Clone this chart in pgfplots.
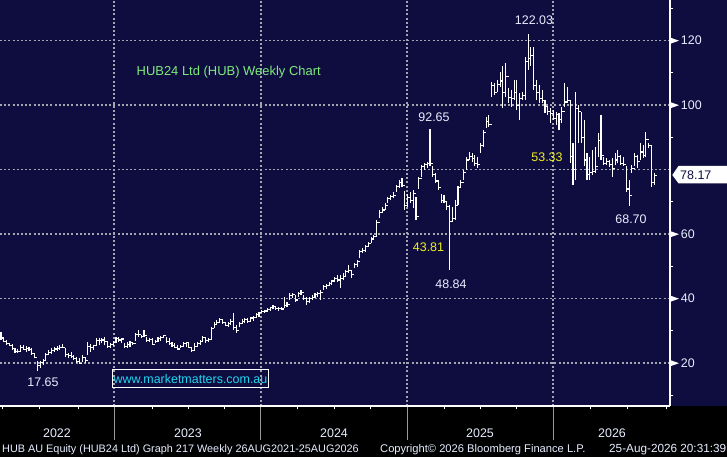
\documentclass[border=0pt]{standalone}
\usepackage{pgfplots}
\pgfplotsset{compat=1.18}
\usepackage{pgfplotstable}
\usepackage{fontspec}
\setmainfont{Liberation Sans}
\definecolor{navybg}{RGB}{15,13,64}
\definecolor{gridc}{RGB}{165,165,175}
\definecolor{lblw}{RGB}{232,238,255}
\definecolor{ttlg}{RGB}{125,235,125}
\definecolor{ylw}{RGB}{240,240,30}
\definecolor{cyn}{RGB}{30,215,240}
\pgfdeclareplotmark{ctick}{\pgfpathmoveto{\pgfpoint{0pt}{0pt}}\pgfpathlineto{\pgfpoint{2.8bp}{0pt}}\pgfusepathqstroke}
\pgfplotstableread{
x h l c
0 29.6 27.2 27.8
1 27.9 26.5 26.8
2 27.2 25.8 26.0
3 26.3 25.2 25.5
4 25.8 24.2 24.5
5 24.8 23.2 23.6
6 24.4 23.1 23.5
7 25.6 23.5 25.0
8 25.5 24.0 24.3
9 25.2 23.6 24.6
10 25.0 23.8 24.2
11 24.6 22.6 23.0
12 23.0 21.7 21.9
13 20.8 17.65 19.2
14 20.6 18.5 20.2
15 21.2 19.5 20.8
16 23.2 21.0 22.6
17 24.2 22.4 23.2
18 24.6 22.8 24.0
19 25.1 23.6 24.4
20 25.2 23.8 24.6
21 25.7 24.1 25.0
22 26.0 24.6 24.9
23 24.8 22.0 22.6
24 23.2 21.5 22.4
25 23.6 21.6 22.0
26 22.6 21.0 21.4
27 22.0 20.0 20.6
28 21.5 19.7 20.0
29 22.5 20.4 21.9
30 22.0 20.2 20.8
31 26.5 22.6 25.2
32 25.8 23.6 25.0
33 25.7 24.2 25.4
34 27.8 25.2 26.9
35 27.8 25.7 27.0
36 27.9 26.3 27.2
37 28.2 25.6 26.6
38 26.8 24.6 25.3
39 26.3 24.6 25.8
40 26.8 25.2 26.5
41 28.0 26.2 27.6
42 28.0 26.5 27.2
43 27.8 26.2 27.5
44 26.3 24.6 25.2
45 26.5 24.8 25.9
46 26.9 25.1 26.3
47 26.7 25.6 26.2
48 29.5 26.8 28.9
49 30.3 28.2 28.8
50 28.8 27.7 28.3
51 30.3 28.2 28.5
52 28.2 26.7 27.1
53 27.7 26.7 27.4
54 27.7 25.6 25.9
55 27.2 26.2 26.8
56 28.2 26.7 27.6
57 28.4 27.0 28.0
58 28.7 27.7 28.5
59 28.2 26.2 26.6
60 27.7 25.6 26.2
61 26.7 25.1 25.5
62 26.2 24.6 24.9
63 25.6 24.1 24.4
64 25.6 24.6 25.2
65 26.7 25.1 26.0
66 26.7 25.1 26.3
67 26.2 24.6 25.0
68 25.1 23.6 23.8
69 26.2 23.9 25.2
70 26.7 25.1 26.1
71 27.2 25.6 26.8
72 28.4 26.7 28.0
73 27.7 26.4 26.9
74 27.7 26.7 27.4
75 31.3 27.2 30.8
76 32.9 30.8 32.0
77 33.4 31.8 32.6
78 33.9 32.6 33.5
79 33.4 32.2 32.6
80 32.9 31.5 31.8
81 32.9 31.3 32.4
82 33.6 31.8 32.9
83 35.5 30.3 31.0
84 31.8 29.3 30.0
85 32.9 31.3 32.4
86 33.6 32.2 33.0
87 33.9 32.4 33.5
88 33.9 32.6 33.0
89 34.4 32.9 34.0
90 34.6 33.2 34.2
91 35.5 33.9 35.0
92 36.0 34.4 35.6
93 36.5 35.5 36.0
94 36.5 35.5 36.2
95 37.0 36.0 36.6
96 37.5 36.3 37.2
97 38.0 36.7 37.7
98 37.7 36.5 37.0
99 37.5 36.3 37.0
100 37.3 36.5 36.8
101 40.6 37.0 38.0
102 39.1 37.5 38.2
103 41.7 39.6 41.0
104 41.9 40.1 41.2
105 41.1 39.1 39.6
106 42.2 40.6 41.5
107 42.7 41.1 41.8
108 41.1 39.6 40.0
109 40.6 38.0 39.0
110 40.6 38.8 40.0
111 41.1 39.6 40.4
112 41.7 40.1 41.2
113 42.2 40.6 41.6
114 42.7 39.6 42.0
115 44.2 42.7 43.8
116 44.6 42.9 44.0
117 45.3 43.9 44.8
118 45.8 44.2 45.5
119 46.8 45.3 46.2
120 47.3 45.3 45.8
121 47.3 43.2 46.3
122 47.9 45.8 47.0
123 48.9 46.8 48.4
124 50.4 47.9 48.7
125 48.9 46.3 47.5
126 51.0 49.4 50.6
127 52.0 49.9 51.5
128 55.1 52.5 54.5
129 55.6 54.1 55.0
130 56.6 54.6 56.2
131 57.7 55.9 57.2
132 59.0 57.2 58.5
133 59.7 58.2 59.2
134 64.4 59.5 63.5
135 67.5 64.9 66.8
136 68.5 66.5 67.5
137 69.6 67.5 68.8
138 71.6 69.6 71.0
139 72.1 70.6 71.8
140 73.2 71.1 72.0
141 75.2 73.2 74.8
142 76.8 74.2 76.0
143 77.3 74.7 75.2
144 73.5 67.5 69.0
145 72.6 68.5 71.5
146 73.2 69.6 70.4
147 73.7 68.0 72.5
148 71.6 64.4 65.5
149 77.8 74.0 77.3
150 81.5 77.8 81.0
151 82.0 79.9 81.5
152 82.5 80.4 81.8
153 92.65 81.0 82.0
154 81.0 77.8 78.5
155 78.9 75.8 76.5
156 76.8 73.7 74.5
157 72.6 69.6 70.5
158 72.1 69.6 70.0
159 70.1 67.5 68.5
160 69.0 48.84 64.0
161 68.5 63.9 65.0
162 70.6 64.4 68.8
163 75.0 69.0 74.5
164 76.8 74.7 76.0
165 79.9 76.8 79.0
166 84.0 79.9 83.0
167 85.6 83.0 84.2
168 85.1 82.5 83.5
169 84.6 81.0 82.0
170 84.0 80.4 81.5
171 88.2 85.1 87.5
172 92.3 87.1 91.5
173 96.4 92.8 95.0
174 97.0 93.3 94.0
175 107.3 102.6 106.0
176 106.8 103.2 104.0
177 107.8 104.2 106.5
178 110.4 105.7 107.5
179 112.0 99.0 104.0
180 113.0 102.6 109.0
181 105.2 100.6 102.5
182 104.7 99.5 102.0
183 107.8 101.6 104.0
184 107.8 98.5 100.0
185 103.7 95.4 102.0
186 104.2 101.6 103.0
187 115.0 101.6 113.5
188 122.03 110.9 114.5
189 118.1 112.0 115.5
190 118.1 104.7 106.0
191 107.8 101.6 104.0
192 106.3 100.6 102.0
193 104.7 100.6 101.5
194 101.6 97.5 99.5
195 99.5 97.0 98.0
196 99.0 94.4 97.5
197 98.5 95.4 96.0
198 98.0 93.9 97.0
199 97.5 92.3 95.5
200 99.5 94.4 98.0
201 106.8 99.5 101.0
202 105.7 100.6 101.5
203 101.6 82.0 84.0
204 88.2 75.2 80.0
205 104.2 76.8 99.0
206 100.0 88.2 98.0
207 98.0 88.2 90.0
208 95.4 81.0 83.0
209 85.1 76.8 78.5
210 84.0 76.8 79.0
211 86.1 78.4 79.5
212 87.1 78.9 81.0
213 91.3 84.0 89.0
214 97.0 83.0 84.5
215 84.0 81.4 82.0
216 83.5 81.4 82.5
217 83.0 80.9 81.5
218 83.5 77.8 80.5
219 85.1 81.4 83.0
220 86.1 82.0 84.0
221 84.6 81.4 82.0
222 84.0 81.0 81.5
223 81.0 73.2 74.0
224 76.8 68.7 72.0
225 81.4 78.9 80.5
226 85.1 81.0 84.0
227 84.6 80.4 82.5
228 88.2 83.0 85.5
229 87.6 83.5 84.5
230 91.8 84.0 89.5
231 88.2 86.6 87.5
232 87.6 74.7 76.0
233 79.0 75.2 78.17
}\data
\begin{document}
\begin{tikzpicture}[x=1bp,y=1bp]
\fill[black] (0,0) rectangle (727,457);
\fill[navybg] (0,51) rectangle (727,457);
\useasboundingbox (0,0) rectangle (727,457);
\begin{axis}[
  at={(0bp,51bp)}, anchor=south west,
  width=670bp, height=406bp, scale only axis,
  xmin=-0.36, xmax=238.6, ymin=6.73, ymax=132.62,
  axis background/.style={fill=navybg},
  axis x line*=bottom, axis y line*=right,
  axis line style={white, line width=1.2bp},
  xtick={40.3,92.7,144.8,196.9}, xticklabels={},
  minor xtick={0.6,13.6,27.7,53.9,66.9,79.8,105.8,118.8,131.6,158.0,171.1,184.0,210.1,223.3,237.4},
  ytick={20,40,60,80,100,120},
  yticklabels={20,40,60,{},100,120},
  minor ytick={10,30,50,70,90,110,130},
  tick align=outside,
  major tick length=34bp, minor tick length=3.3bp,
  every major x tick/.append style={draw=gray!80, line width=1bp},
  every major y tick/.append style={draw=none},
  every minor tick/.append style={draw=white, line width=1bp},
  xmajorgrids, ymajorgrids,
  major grid style={draw=gridc, line width=1.6bp, dash pattern=on 2bp off 2.2bp},
  yticklabel style={anchor=west, inner sep=0pt, xshift=-23.3bp, font=\fontsize{12.5}{12.5}\selectfont, text=lblw},
]
\addplot[white, line width=1.1bp, only marks, mark=ctick,
  error bars/.cd, y dir=both, y explicit, error mark=none,
  error bar style={white, line width=1.1bp, solid}]
  table[x=x, y=c, y error plus expr=\thisrow{h}-\thisrow{c}, y error minus expr=\thisrow{c}-\thisrow{l}] {\data};
\end{axis}
% tick pointers on the price scale (20, 40, 60, 100, 120)
\foreach \yy in {93.8,158.3,222.8,351.8,416.3}{
  \fill[white] (670.5,{\yy-3}) -- (679,\yy) -- (670.5,{\yy+3}) -- cycle;
}
% year labels
\begin{scope}[every node/.style={inner sep=0pt, anchor=base, text=lblw, font=\fontsize{12.5}{12.5}\selectfont}]
\node at (57,19.7) {2022};
\node at (188,19.7) {2023};
\node at (334,19.7) {2024};
\node at (480,19.7) {2025};
\node at (612,19.7) {2026};
\end{scope}
% footer
\begin{scope}[every node/.style={inner sep=0pt, anchor=base west, text=lblw}]
\node[font=\fontsize{10.9}{10.9}\selectfont] at (2,4.7) {HUB AU Equity (HUB24 Ltd) Graph 217 Weekly 26AUG2021-25AUG2026};
\node[font=\fontsize{11.2}{11.2}\selectfont] at (380,4.7) {Copyright© 2026 Bloomberg Finance L.P.};
\node[font=\fontsize{11.8}{11.8}\selectfont] at (609,4.7) {25-Aug-2026 20:31:39};
\end{scope}
% title
\node[inner sep=0pt, anchor=base west, text=ttlg, font=\fontsize{13}{13}\selectfont] at (136.5,381) {HUB24 Ltd (HUB) Weekly Chart};
% website box
\draw[white, line width=1bp] (112.5,69.5) rectangle (268.5,87.5);
\node[inner sep=0pt, anchor=base, text=cyn, font=\fontsize{12.5}{12.5}\selectfont] at (190.5,73.8) {www.marketmatters.com.au};
% price annotations
\begin{scope}[every node/.style={inner sep=0pt, anchor=center, text=lblw, font=\fontsize{12.5}{12.5}\selectfont}]
\node at (534,436.5) {122.03};
\node at (434,340) {92.65};
\node at (451,173) {48.84};
\node at (631,238) {68.70};
\node at (43,75) {17.65};
\node[text=ylw] at (428.5,210) {43.81};
\node[text=ylw] at (547,300) {53.33};
\end{scope}
% last price flag
\fill[white] (672.3,282) -- (678.5,291) -- (727,291) -- (727,273.7) -- (678.5,273.7) -- cycle;
\node[inner sep=0pt, anchor=west, text=navybg, font=\fontsize{12.5}{12.5}\selectfont] at (680,282) {78.17};
\end{tikzpicture}
\end{document}
